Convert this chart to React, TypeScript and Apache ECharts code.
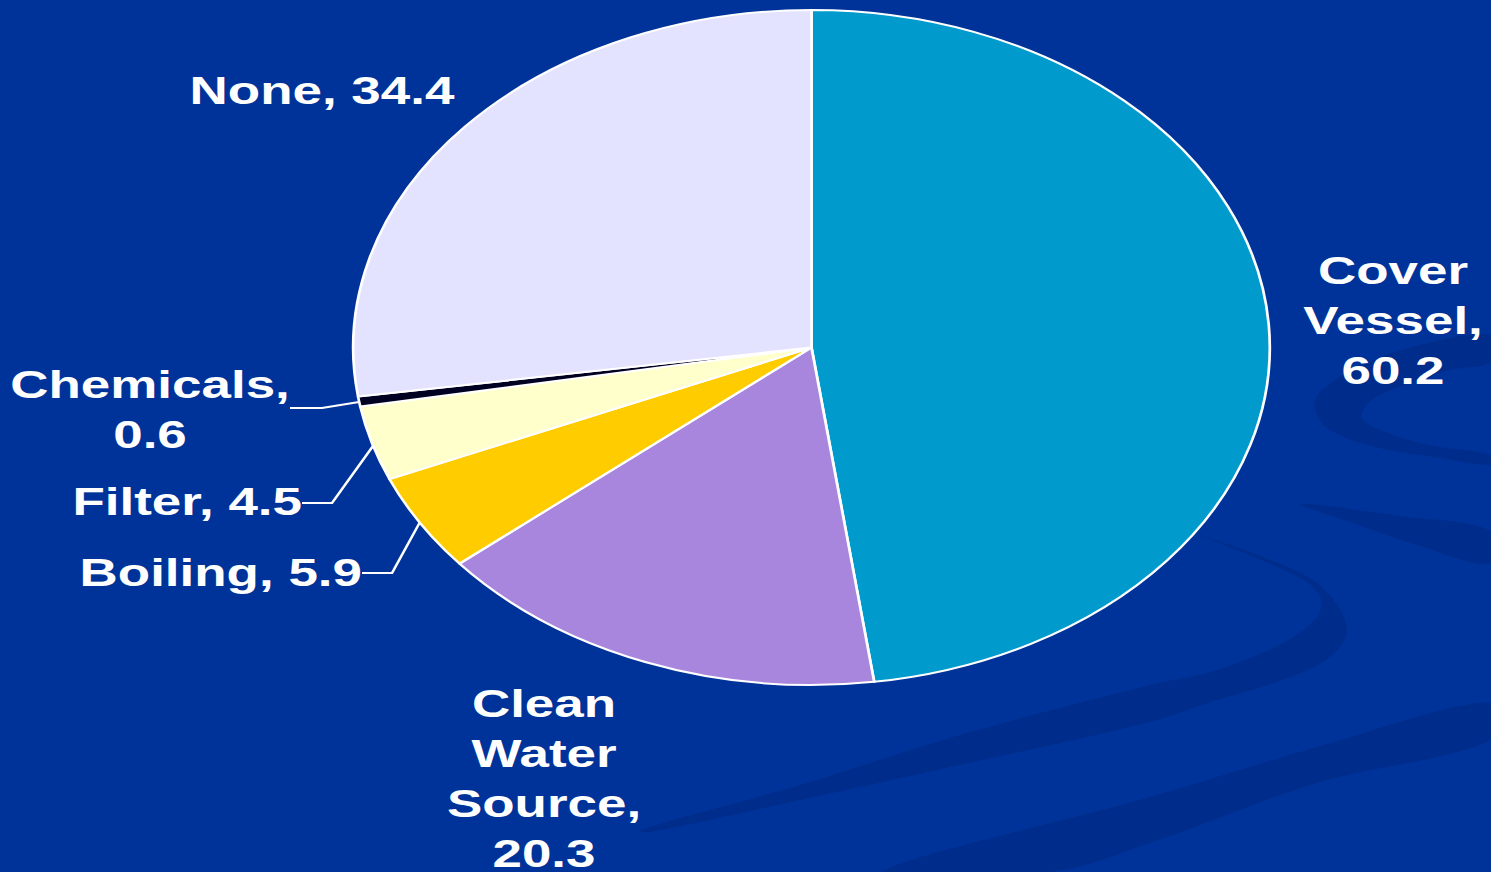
import React, { useEffect, useRef } from "react";
import * as echarts from "echarts";

// ---- data ----
const categories = ["Cover Vessel", "Clean Water Source", "Boiling", "Filter", "Chemicals", "None"];
const values = [60.2, 20.3, 5.9, 4.5, 0.6, 34.4];
const labelNameLines = ["Cover\nVessel", "Clean\nWater\nSource", "Boiling", "Filter", "Chemicals", "None"];
const valueOnNewLine = [true, true, false, false, true, false];
const sliceColors = ["#009ACD", "#A886DD", "#FFCC00", "#FFFFCC", "#000022", "#E3E3FF"];

// ---- layout (page pixels) ----
const PAGE_W = 1491;
const PAGE_H = 872;
const INNER_W = 1098;
const SX = PAGE_W / INNER_W; // the original slide is stretched horizontally
const toX = (x: number) => x / SX;

const labelAnchors = [
  { x: 1393, y: 321, align: "center" },
  { x: 544, y: 779, align: "center" },
  { x: 362, y: 573, align: "right" },
  { x: 302, y: 502, align: "right" },
  { x: 150, y: 410, align: "center" },
  { x: 322, y: 91, align: "center" },
];
const leaderLines: (number[][] | null)[] = [
  null,
  null,
  [[362, 573], [392, 573], [420, 522]],
  [[302, 503], [332, 503], [373, 446]],
  [[290, 408], [322, 408], [359, 402]],
  null,
];

const BAND = "#002D8C";
const swooshes: number[][][] = [
  // lower straight band
  [[882, 872], [1150, 797], [1317, 747], [1491, 702], [1491, 740], [1317, 783], [1150, 843], [1050, 872]],
  // S-shaped swoosh
  [
    [1180, 528], [1260, 556], [1317, 583], [1347, 627], [1330, 657], [1283, 680],
    [1217, 700], [1150, 722], [960, 765], [800, 800], [650, 832], [640, 830], [800, 785],
    [960, 735], [1150, 685], [1217, 670], [1283, 643], [1317, 617], [1320, 597], [1300, 578], [1190, 531],
  ],
  // top-right crescent
  [
    [1491, 335], [1420, 345], [1360, 366], [1320, 392], [1315, 410], [1330, 430],
    [1375, 447], [1440, 458], [1491, 465], [1491, 455], [1430, 445], [1385, 432],
    [1362, 418], [1372, 400], [1410, 383], [1450, 370], [1491, 362],
  ],
  // faint band under the crescent
  [[1300, 504], [1400, 516], [1491, 531], [1491, 564], [1420, 546], [1350, 522]],
];

export default function App() {
  const ref = useRef<HTMLDivElement>(null);
  useEffect(() => {
    if (!ref.current) return;
    const chart = echarts.init(ref.current, null, { renderer: "svg" });
    const font = "'Liberation Sans', Arial, sans-serif";
    chart.setOption({
      animation: false,
      backgroundColor: "#003399",
      graphic: swooshes.map((pts) => ({
        type: "polygon",
        z: 0,
        silent: true,
        shape: { points: pts.map(([x, y]) => [toX(x), y]), smooth: 0.35 },
        style: { fill: BAND },
      })),
      series: [
        {
          type: "pie",
          z: 2,
          center: [toX(811.5), 347.5],
          radius: 337.5,
          startAngle: 90,
          clockwise: true,
          avoidLabelOverlap: false,
          itemStyle: { borderColor: "#ffffff", borderWidth: 2 },
          label: {
            show: true,
            position: "outside",
            color: "#ffffff",
            fontFamily: font,
            fontWeight: "bold",
            fontSize: 39,
            lineHeight: 50,
            formatter: (p: any) =>
              labelNameLines[p.dataIndex] + "," + (valueOnNewLine[p.dataIndex] ? "\n" : " ") + p.value,
          },
          labelLine: { show: true, lineStyle: { color: "#ffffff", width: 2 } },
          labelLayout: (params: any) => {
            const i = params.dataIndex;
            const a = labelAnchors[i];
            const res: any = {
              x: toX(a.x),
              y: a.y,
              align: a.align,
              verticalAlign: "middle",
            };
            const ll = leaderLines[i];
            if (ll) res.labelLinePoints = ll.map(([x, y]) => [toX(x), y]);
            return res;
          },
          emphasis: { disabled: true },
          data: categories.map((name, i) => ({
            name,
            value: values[i],
            itemStyle: { color: sliceColors[i] },
            labelLine: { show: leaderLines[i] !== null },
          })),
        },
      ],
    });
    return () => chart.dispose();
  }, []);

  return (
    <div
      style={{
        position: "fixed",
        left: 0,
        top: 0,
        width: PAGE_W,
        height: PAGE_H,
        overflow: "hidden",
        background: "#003399",
      }}
    >
      <div
        ref={ref}
        style={{
          width: INNER_W,
          height: PAGE_H,
          transform: `scaleX(${SX})`,
          transformOrigin: "0 0",
        }}
      />
    </div>
  );
}
